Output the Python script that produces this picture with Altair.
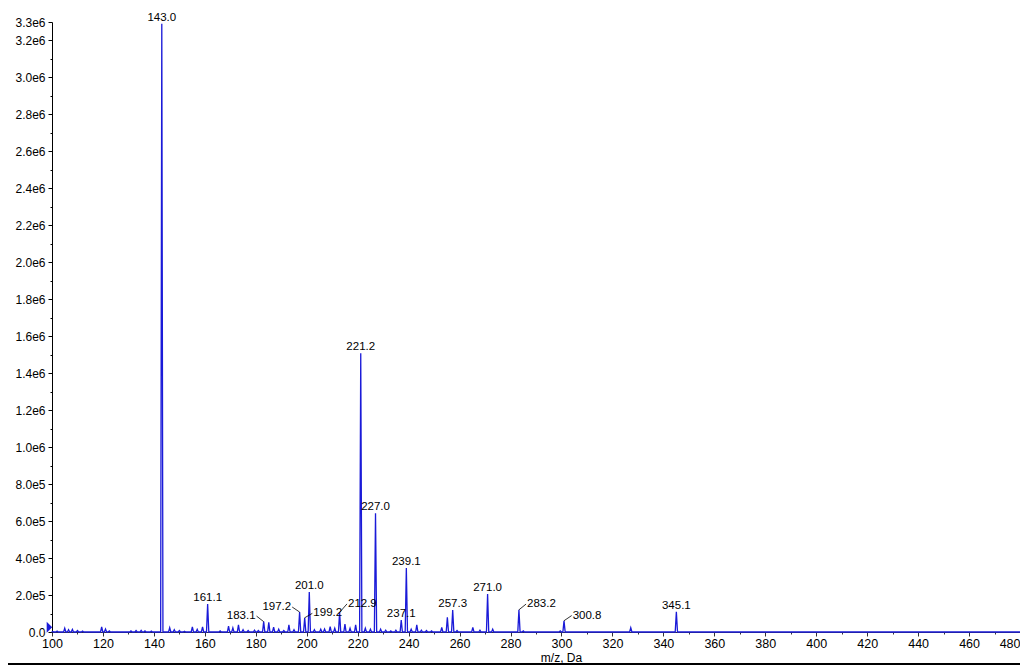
import altair as alt
import pandas as pd

# ---- data ----
peak_mz = [100.3, 102.0, 105.0, 106.5, 108.0, 110.0, 112.0, 119.5, 121.0, 122.5,
           131.0, 133.0, 135.0, 136.5, 139.0, 143.1, 146.2, 148.0, 150.0, 152.0,
           155.1, 157.0, 159.1, 161.1, 166.0, 169.3, 171.0, 173.2, 175.0, 177.0,
           179.5, 181.0, 183.1, 185.1, 187.0, 189.0, 191.0, 193.0, 195.0, 197.2,
           199.2, 201.0, 203.0, 205.5, 207.0, 209.2, 211.0, 212.9, 215.0, 217.0,
           219.2, 221.2, 223.0, 225.0, 227.0, 229.0, 231.0, 233.0, 235.0, 237.1,
           239.1, 241.0, 243.2, 245.0, 247.0, 249.0, 253.0, 255.2, 257.3, 259.0,
           265.2, 268.0, 271.0, 273.0, 283.3, 285.0, 299.5, 301.0, 327.2, 345.1]
peak_int = [3e3, 5e3, 2.0e4, 1.2e4, 1.4e4, 8e3, 5e3, 2.7e4, 1.6e4, 6e3,
            6e3, 8e3, 9e3, 6e3, 5e3, 3.29e6, 2.3e4, 1.2e4, 8e3, 4e3,
            2.8e4, 1.4e4, 2.8e4, 1.51e5, 6e3, 3.2e4, 2.2e4, 3.8e4, 1.2e4, 8e3,
            1.0e4, 8e3, 5.6e4, 5.2e4, 2.6e4, 1.5e4, 8e3, 3.8e4, 1.2e4, 1.08e5,
            7.7e4, 2.16e5, 1.2e4, 1.5e4, 1.6e4, 2.9e4, 2.0e4, 1.06e5, 4.3e4, 2.0e4,
            3.8e4, 1.508e6, 2.0e4, 1.5e4, 6.43e5, 1.5e4, 1.0e4, 6e3, 1.0e4, 6.5e4,
            3.46e5, 1.5e4, 3.8e4, 1.0e4, 8e3, 6e3, 2.5e4, 8.0e4, 1.19e5, 8e3,
            2.5e4, 1.0e4, 2.05e5, 1.5e4, 1.2e5, 6e3, 6e3, 6.1e4, 2.3e4, 1.1e5]

# labels sitting directly above their peak
top_labels = ["143.0", "161.1", "201.0", "221.2", "227.0", "237.1", "239.1", "257.3", "271.0", "345.1"]
top_label_mz = [143.1, 161.1, 201.0, 221.2, 227.0, 237.1, 239.1, 257.3, 271.0, 345.1]
top_label_int = [3.29e6, 1.51e5, 2.16e5, 1.508e6, 6.43e5, 6.5e4, 3.46e5, 1.19e5, 2.05e5, 1.1e5]

# labels placed beside their peak, joined by a leader line
left_labels = ["183.1", "197.2"]          # text ends at the anchor
left_label_mz = [180.3, 194.3]
left_label_int = [8.6e4, 1.35e5]
left_peak_mz = [183.1, 197.2]
left_peak_int = [5.6e4, 1.08e5]

right_labels = ["199.2", "212.9", "283.2", "300.8"]   # text starts at the anchor
right_label_mz = [202.2, 215.8, 286.1, 304.0]
right_label_int = [1.01e5, 1.52e5, 1.51e5, 8.9e4]
right_peak_mz = [199.2, 212.9, 283.3, 301.0]
right_peak_int = [7.7e4, 1.06e5, 1.2e5, 6.1e4]

marker_mz = [99.0]
marker_int = [2.6e4]

x_ticks = list(range(100, 481, 10))
y_ticks = [i * 100000 for i in range(0, 34)]

BLUE = "#1a1ad8"
FONT = "Liberation Sans"

# ---- build the profile line (each peak drawn as a narrow triangle) ----
half_w = 0.45
rows = [(100.0, 0.0)]
for m, h in zip(peak_mz, peak_int):
    rows += [(m - half_w, 0.0), (m, h), (m + half_w, 0.0)]
rows.append((480.0, 0.0))
line_df = pd.DataFrame(rows, columns=["mz", "intensity"])
line_df["order"] = range(len(line_df))

x_scale = alt.Scale(domain=[100, 480], nice=False, zero=False)
y_scale = alt.Scale(domain=[0, 3300000], nice=False)

x_axis = alt.Axis(
    values=x_ticks,
    labelExpr="datum.value % 20 == 0 ? datum.label : ''",
    labelAlign={"condition": {"test": "datum.value == 480", "value": "right"}, "value": "center"},
    tickSize={"condition": {"test": "datum.value % 20 != 0", "value": 2}, "value": 4},
    title="m/z, Da",
    titleX=509, titleY=25, titleAlign="center", titleBaseline="middle",
    titleFontWeight="normal", titleFontSize=12, titleFont=FONT,
    labelFontSize=12.5, labelPadding=1, labelFlush=False,
    domainColor="#333333", tickColor="#333333", grid=False,
)
y_axis = alt.Axis(
    values=y_ticks,
    labelExpr=("(datum.value % 200000 == 0 || datum.value == 3300000) ? "
               "(datum.value == 0 ? '0.0' : datum.value < 1000000 ? "
               "format(datum.value/100000, '.1f') + 'e5' : "
               "format(datum.value/1000000, '.1f') + 'e6') : ''"),
    tickSize={"condition": {"test": "datum.value % 200000 != 0 && datum.value != 3300000",
                            "value": 2}, "value": 4},
    title=None, labelFontSize=12, labelPadding=3, labelFlush=False,
    domainColor="#000000", tickColor="#000000", grid=False,
)


def X(field):
    return alt.X(field, type="quantitative", scale=x_scale, axis=x_axis)


def Y(field):
    return alt.Y(field, type="quantitative", scale=y_scale, axis=y_axis)


spectrum = alt.Chart(line_df).mark_line(color=BLUE, strokeWidth=1.3).encode(
    x=X("mz"), y=Y("intensity"), order="order:Q",
)

top_df = pd.DataFrame({"label": top_labels, "mz": top_label_mz, "intensity": top_label_int})
top_text = alt.Chart(top_df).mark_text(
    align="center", baseline="bottom", dy=-1, fontSize=11.5, font=FONT, color="#000000"
).encode(x=X("mz"), y=Y("intensity"), text="label:N")

left_df = pd.DataFrame({"label": left_labels, "lx": left_label_mz, "ly": left_label_int,
                        "px": left_peak_mz, "py": left_peak_int})
right_df = pd.DataFrame({"label": right_labels, "lx": right_label_mz, "ly": right_label_int,
                         "px": right_peak_mz, "py": right_peak_int})

left_text = alt.Chart(left_df).mark_text(
    align="right", baseline="middle", dx=-1, fontSize=11.5, font=FONT, color="#000000"
).encode(x=X("lx"), y=Y("ly"), text="label:N")
right_text = alt.Chart(right_df).mark_text(
    align="left", baseline="middle", dx=1, fontSize=11.5, font=FONT, color="#000000"
).encode(x=X("lx"), y=Y("ly"), text="label:N")

leaders_df = pd.concat([left_df, right_df], ignore_index=True)
leaders = alt.Chart(leaders_df).mark_rule(color="#000000", strokeWidth=0.8).encode(
    x=X("px"), y=Y("py"), x2="lx:Q", y2="ly:Q",
)

marker_df = pd.DataFrame({"mz": marker_mz, "intensity": marker_int})
marker = alt.Chart(marker_df).mark_point(
    shape="M-0.5,-1L0.5,0L-0.5,1Z", filled=True, size=121, color=BLUE, opacity=1
).encode(x=X("mz"), y=Y("intensity"))

frame_line = alt.Chart(pd.DataFrame({"k": [0]})).mark_rule(color="#000000", strokeWidth=2).encode(
    x=alt.value(-52), x2=alt.value(976), y=alt.value(642)
)

chart = alt.layer(spectrum, leaders, top_text, left_text, right_text, marker, frame_line).properties(
    width=968,
    height=610,
    padding={"left": 44, "top": 14, "right": 0, "bottom": 36},
    autosize=alt.AutoSizeParams(type="none"),
).configure_view(stroke=None).configure_axis(
    labelFont=FONT, labelColor="#000000", titleColor="#000000"
)

chart.save("out.html", embed_options={"renderer": "svg", "actions": False})
